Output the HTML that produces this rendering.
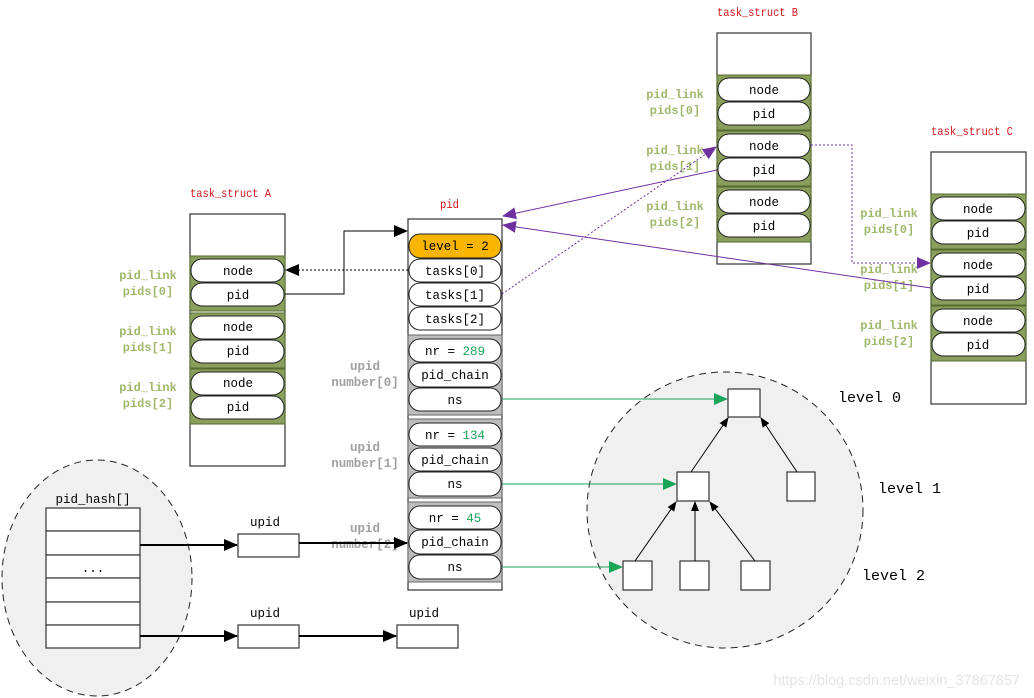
<!DOCTYPE html>
<html><head><meta charset="utf-8"><style>
html,body{margin:0;padding:0;background:#fff;}
svg{display:block;}
text{font-family:"Liberation Mono",monospace;font-size:12.5px;}
.c{text-anchor:middle;}
.red{fill:#d0161b;font-size:12px;}
.lbl{fill:#9fb86c;font-weight:bold;font-size:12px;}
.gl{fill:#a0a0a0;font-weight:bold;}
.pill{fill:#fff;stroke:#222;stroke-width:1;}
.grn{fill:#8a9f5c;stroke:#556b2f;stroke-width:1;}
.gry{fill:#bdbdbd;stroke:#666;stroke-width:1;}
.box{fill:#fff;stroke:#333;stroke-width:1.2;}
.lv{font-size:15px;}
</style></head><body>
<svg width="1034" height="698" viewBox="0 0 1034 698" xmlns="http://www.w3.org/2000/svg">
<defs>
<marker id="abig" markerWidth="14" markerHeight="12" refX="13" refY="6" orient="auto" markerUnits="userSpaceOnUse"><path d="M0,0 L14,6 L0,12 z" fill="#000"/></marker>
<marker id="ap" markerWidth="14" markerHeight="12" refX="13" refY="6" orient="auto" markerUnits="userSpaceOnUse"><path d="M0,0 L14,6 L0,12 z" fill="#7030a0"/></marker>
<marker id="ag" markerWidth="14" markerHeight="12" refX="13" refY="6" orient="auto" markerUnits="userSpaceOnUse"><path d="M0,0 L14,6 L0,12 z" fill="#1aa55a"/></marker>
<marker id="at" markerWidth="10" markerHeight="10" refX="9" refY="5" orient="auto" markerUnits="userSpaceOnUse"><path d="M0,1 L10,5 L0,9 z" fill="#000"/></marker>
</defs>

<ellipse cx="725" cy="510" rx="138" ry="138" fill="#f0f0f0" stroke="#222" stroke-dasharray="7,5"/>
<ellipse cx="97" cy="578" rx="95" ry="118" fill="#f0f0f0" stroke="#222" stroke-dasharray="7,5"/>

<text x="190" y="197" class="red" textLength="81" lengthAdjust="spacingAndGlyphs">task_struct A</text>
<rect x="190" y="214" width="95" height="252" class="box"/>
<rect x="190" y="256" width="95" height="55" class="grn"/>
<rect x="190" y="313" width="95" height="55" class="grn"/>
<rect x="190" y="369" width="95" height="55" class="grn"/>
<rect x="191" y="259" width="93" height="23" rx="11" class="pill"/><text x="238" y="275" class="c">node</text>
<rect x="191" y="283" width="93" height="23" rx="11" class="pill"/><text x="238" y="299" class="c">pid</text>
<rect x="191" y="316" width="93" height="23" rx="11" class="pill"/><text x="238" y="331" class="c">node</text>
<rect x="191" y="340" width="93" height="23" rx="11" class="pill"/><text x="238" y="355" class="c">pid</text>
<rect x="191" y="372" width="93" height="23" rx="11" class="pill"/><text x="238" y="387" class="c">node</text>
<rect x="191" y="396" width="93" height="23" rx="11" class="pill"/><text x="238" y="411" class="c">pid</text>
<text x="148" y="279" class="c lbl">pid_link</text><text x="148" y="295" class="c lbl">pids[0]</text>
<text x="148" y="335" class="c lbl">pid_link</text><text x="148" y="351" class="c lbl">pids[1]</text>
<text x="148" y="391" class="c lbl">pid_link</text><text x="148" y="407" class="c lbl">pids[2]</text>

<text x="717" y="16" class="red" textLength="81" lengthAdjust="spacingAndGlyphs">task_struct B</text>
<rect x="717" y="33" width="94" height="231" class="box"/>
<rect x="717" y="75" width="94" height="55" class="grn"/>
<rect x="717" y="131" width="94" height="55" class="grn"/>
<rect x="717" y="187" width="94" height="55" class="grn"/>
<rect x="718" y="78" width="92" height="23" rx="11" class="pill"/><text x="764" y="94" class="c">node</text>
<rect x="718" y="102" width="92" height="23" rx="11" class="pill"/><text x="764" y="118" class="c">pid</text>
<rect x="718" y="134" width="92" height="23" rx="11" class="pill"/><text x="764" y="150" class="c">node</text>
<rect x="718" y="158" width="92" height="23" rx="11" class="pill"/><text x="764" y="174" class="c">pid</text>
<rect x="718" y="190" width="92" height="23" rx="11" class="pill"/><text x="764" y="206" class="c">node</text>
<rect x="718" y="214" width="92" height="23" rx="11" class="pill"/><text x="764" y="230" class="c">pid</text>
<text x="675" y="98" class="c lbl">pid_link</text><text x="675" y="114" class="c lbl">pids[0]</text>
<text x="675" y="154" class="c lbl">pid_link</text><text x="675" y="170" class="c lbl">pids[1]</text>
<text x="675" y="210" class="c lbl">pid_link</text><text x="675" y="226" class="c lbl">pids[2]</text>

<text x="931" y="135" class="red" textLength="82" lengthAdjust="spacingAndGlyphs">task_struct C</text>
<rect x="931" y="152" width="95" height="252" class="box"/>
<rect x="931" y="194" width="95" height="55" class="grn"/>
<rect x="931" y="250" width="95" height="55" class="grn"/>
<rect x="931" y="306" width="95" height="55" class="grn"/>
<rect x="932" y="197" width="93" height="23" rx="11" class="pill"/><text x="978" y="213" class="c">node</text>
<rect x="932" y="221" width="93" height="23" rx="11" class="pill"/><text x="978" y="237" class="c">pid</text>
<rect x="932" y="253" width="93" height="23" rx="11" class="pill"/><text x="978" y="269" class="c">node</text>
<rect x="932" y="277" width="93" height="23" rx="11" class="pill"/><text x="978" y="293" class="c">pid</text>
<rect x="932" y="309" width="93" height="23" rx="11" class="pill"/><text x="978" y="325" class="c">node</text>
<rect x="932" y="333" width="93" height="23" rx="11" class="pill"/><text x="978" y="349" class="c">pid</text>
<text x="889" y="217" class="c lbl">pid_link</text><text x="889" y="233" class="c lbl">pids[0]</text>
<text x="889" y="273" class="c lbl">pid_link</text><text x="889" y="289" class="c lbl">pids[1]</text>
<text x="889" y="329" class="c lbl">pid_link</text><text x="889" y="345" class="c lbl">pids[2]</text>

<text x="440" y="208" class="red" textLength="19" lengthAdjust="spacingAndGlyphs">pid</text>
<rect x="408" y="219" width="94" height="371" class="box"/>
<rect x="408" y="335" width="94" height="80" class="gry"/>
<rect x="408" y="419" width="94" height="79" class="gry"/>
<rect x="408" y="502" width="94" height="80" class="gry"/>
<rect x="409" y="234" width="92" height="24" rx="11" fill="#f7b500" stroke="#222"/><text x="455" y="250" class="c">level = 2</text>
<rect x="409" y="259" width="92" height="23" rx="11" class="pill"/><text x="455" y="275" class="c">tasks[0]</text>
<rect x="409" y="283" width="92" height="23" rx="11" class="pill"/><text x="455" y="299" class="c">tasks[1]</text>
<rect x="409" y="307" width="92" height="23" rx="11" class="pill"/><text x="455" y="323" class="c">tasks[2]</text>
<rect x="409" y="339" width="92" height="23" rx="11" class="pill"/><text x="455" y="355" class="c">nr = <tspan fill="#1aa55a">289</tspan></text>
<rect x="409" y="363" width="92" height="24" rx="11" class="pill"/><text x="455" y="379" class="c">pid_chain</text>
<rect x="409" y="388" width="92" height="23" rx="11" class="pill"/><text x="455" y="404" class="c">ns</text>
<rect x="409" y="423" width="92" height="23" rx="11" class="pill"/><text x="455" y="439" class="c">nr = <tspan fill="#1aa55a">134</tspan></text>
<rect x="409" y="448" width="92" height="23" rx="11" class="pill"/><text x="455" y="464" class="c">pid_chain</text>
<rect x="409" y="472" width="92" height="24" rx="11" class="pill"/><text x="455" y="488" class="c">ns</text>
<rect x="409" y="506" width="92" height="23" rx="11" class="pill"/><text x="455" y="522" class="c">nr = <tspan fill="#1aa55a">45</tspan></text>
<rect x="409" y="530" width="92" height="24" rx="11" class="pill"/><text x="455" y="546" class="c">pid_chain</text>
<rect x="409" y="555" width="92" height="24" rx="11" class="pill"/><text x="455" y="571" class="c">ns</text>
<text x="365" y="370" class="c gl">upid</text><text x="365" y="386" class="c gl">number[0]</text>
<text x="365" y="451" class="c gl">upid</text><text x="365" y="467" class="c gl">number[1]</text>
<text x="365" y="532" class="c gl">upid</text><text x="365" y="548" class="c gl">number[2]</text>

<line x1="408" y1="270" x2="286" y2="270" stroke="#000" stroke-dasharray="2,2" marker-end="url(#abig)"/>
<polyline points="285,294 344,294 344,231 407,231" fill="none" stroke="#000" marker-end="url(#abig)"/>
<line x1="502" y1="294" x2="716" y2="147" stroke="#7030a0" stroke-dasharray="2,2" marker-end="url(#ap)"/>
<line x1="717" y1="170" x2="503" y2="216" stroke="#7030a0" marker-end="url(#ap)"/>
<line x1="931" y1="288" x2="503" y2="225" stroke="#7030a0" marker-end="url(#ap)"/>
<polyline points="811,145 852,145 852,263 930,263" fill="none" stroke="#7030a0" stroke-dasharray="2,2" marker-end="url(#ap)"/>
<line x1="502" y1="399" x2="727" y2="399" stroke="#1aa55a" marker-end="url(#ag)"/>
<line x1="502" y1="484" x2="676" y2="484" stroke="#1aa55a" marker-end="url(#ag)"/>
<line x1="502" y1="567" x2="622" y2="567" stroke="#1aa55a" marker-end="url(#ag)"/>

<rect x="728" y="389" width="32" height="28" class="box"/>
<rect x="677" y="472" width="32" height="29" class="box"/>
<rect x="787" y="472" width="28" height="29" class="box"/>
<rect x="623" y="561" width="29" height="29" class="box"/>
<rect x="680" y="561" width="29" height="29" class="box"/>
<rect x="741" y="561" width="29" height="29" class="box"/>
<line x1="691" y1="472" x2="728" y2="418" stroke="#000" marker-end="url(#at)"/>
<line x1="797" y1="472" x2="761" y2="418" stroke="#000" marker-end="url(#at)"/>
<line x1="635" y1="561" x2="676" y2="502" stroke="#000" marker-end="url(#at)"/>
<line x1="695" y1="561" x2="695" y2="502" stroke="#000" marker-end="url(#at)"/>
<line x1="755" y1="561" x2="710" y2="502" stroke="#000" marker-end="url(#at)"/>
<text x="838" y="402" class="lv">level 0</text>
<text x="878" y="493" class="lv">level 1</text>
<text x="862" y="580" class="lv">level 2</text>

<text x="93" y="503" class="c">pid_hash[]</text>
<rect x="46" y="508" width="94" height="23" class="box"/>
<rect x="46" y="531" width="94" height="24" class="box"/>
<rect x="46" y="555" width="94" height="23" class="box"/>
<rect x="46" y="578" width="94" height="24" class="box"/>
<rect x="46" y="602" width="94" height="23" class="box"/>
<rect x="46" y="625" width="94" height="23" class="box"/>
<text x="93" y="572" class="c">...</text>
<text x="265" y="526" class="c">upid</text>
<rect x="238" y="534" width="61" height="23" class="box"/>
<text x="265" y="617" class="c">upid</text>
<rect x="238" y="625" width="61" height="23" class="box"/>
<text x="424" y="617" class="c">upid</text>
<rect x="397" y="625" width="61" height="23" class="box"/>
<line x1="140" y1="545" x2="237" y2="545" stroke="#000" stroke-width="2" marker-end="url(#abig)"/>
<line x1="299" y1="543" x2="407" y2="543" stroke="#000" stroke-width="2" marker-end="url(#abig)"/>
<line x1="140" y1="636" x2="237" y2="636" stroke="#000" stroke-width="2" marker-end="url(#abig)"/>
<line x1="299" y1="636" x2="396" y2="636" stroke="#000" stroke-width="2" marker-end="url(#abig)"/>

<text x="1020" y="685" text-anchor="end" style="font-family:'Liberation Sans',sans-serif;font-size:14.5px;fill:#e4e4e4">https://blog.csdn.net/weixin_37867857</text>
</svg>
</body></html>
